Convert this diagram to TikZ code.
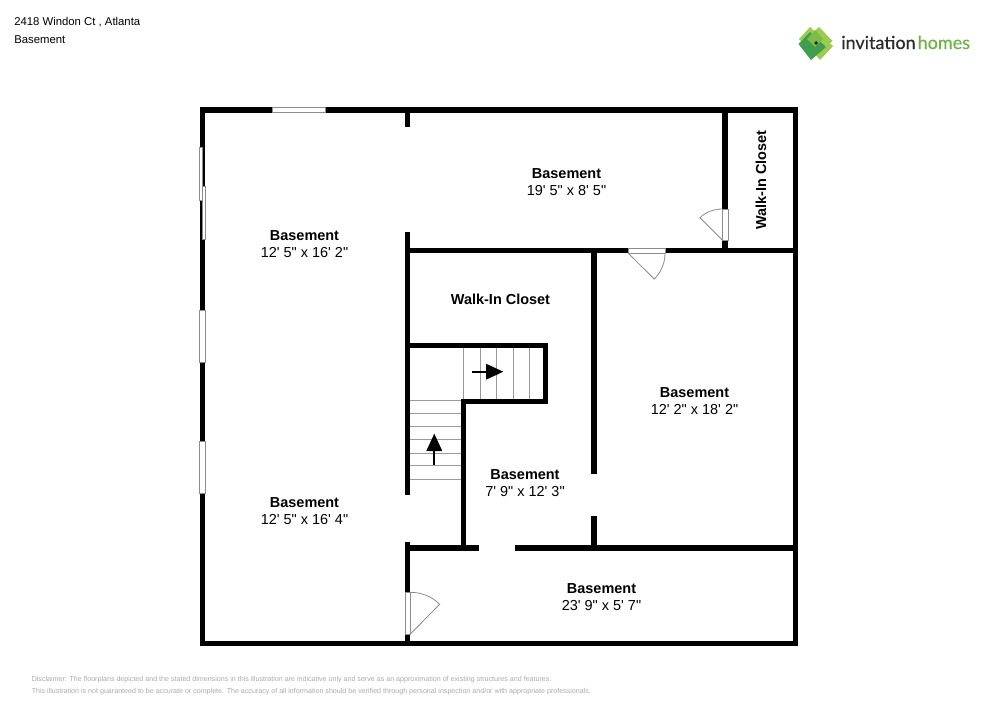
\documentclass[tikz,border=0pt]{standalone}
\usepackage{fontspec}
\setmainfont{Liberation Sans}
\newfontfamily\plainfont{Liberation Sans}
\newfontfamily\logofont[FakeBold=0.35]{Lato}
\definecolor{glass}{HTML}{8C8C8C}
\definecolor{disc}{HTML}{ABABAB}
\definecolor{stairline}{HTML}{9A9A9A}
\definecolor{lightleaf}{HTML}{9CCB4F}
\definecolor{midleaf}{HTML}{7DBB4A}
\definecolor{darkleaf}{HTML}{3F9E4D}
\definecolor{logodark}{HTML}{2B2B2B}
\definecolor{logogreen}{HTML}{6DB544}
\tikzset{
  wallpart/.style={fill=black,draw=none},
  pane/.style={fill=white,draw=glass,line width=0.6pt},
  leaf/.style={draw=glass,line width=0.6pt},
  tread/.style={draw=stairline,line width=0.5pt},
  room/.style={align=center,font=\plainfont\fontsize{10.85}{12.9}\selectfont,inner sep=0pt},
  head/.style={anchor=base west,font=\plainfont\fontsize{8.5}{10}\selectfont,inner sep=0pt},
  small/.style={anchor=base west,text=disc,font=\plainfont\fontsize{5.33}{6}\selectfont,inner sep=0pt},
}
\newcommand{\wallrect}[4]{\fill[wallpart] (#1,#2) rectangle (#3,#4);}
\begin{document}
\begin{tikzpicture}[x=0.75pt,y=-0.75pt]
\useasboundingbox (0,0) rectangle (1000,707);
\fill[white] (0,0) rectangle (1000,707);
% outer walls
\wallrect{199.5}{107}{798}{112.5}
\wallrect{199.5}{640.5}{798}{646}
\wallrect{199.5}{107}{205.3}{646}
\wallrect{792.7}{107}{798}{646}
% inner walls
\wallrect{405}{112}{410.3}{127}
\wallrect{405}{232}{410.3}{495}
\wallrect{405}{542}{410.3}{646}
\wallrect{405}{247.7}{798}{253.3}
\wallrect{722.3}{112}{728.3}{250}
\wallrect{591}{250}{597}{474}
\wallrect{591}{516}{597}{550}
\wallrect{405}{342.7}{548}{348.3}
\wallrect{542.7}{342.7}{548}{404.3}
\wallrect{461}{399}{548}{404.3}
\wallrect{461}{399}{466.3}{550.7}
\wallrect{405}{545}{479}{550.7}
\wallrect{515.3}{545}{798}{550.7}
% windows
\draw[pane] (272.7,107.3) rectangle (325.3,112);
\draw[pane] (199.5,147.3) rectangle (202.3,200.7);
\draw[pane] (202.3,186.7) rectangle (205.2,239.3);
\draw[pane] (199.8,310.7) rectangle (205,362.7);
\draw[pane] (199.8,441) rectangle (205,493.3);
% doors
\draw[pane] (405,592.3) rectangle (410.3,634);
\draw[leaf] (410.3,634) -- (439.7,604.3) .. controls (431.9,596.5) and (421.4,592.3) .. (410.3,592.3);
\draw[pane] (722.5,209) rectangle (728,240);
\draw[leaf] (722.3,240) -- (700,217.7) .. controls (705.8,211.9) and (714.1,209) .. (722.3,209);
\draw[pane] (628.3,248) rectangle (665,253.3);
\draw[leaf] (628.3,253.3) -- (654.3,279) .. controls (661.2,272.1) and (665,263) .. (665,253.3);
% stairs
\foreach \sx in {463.7,480.3,496.7,513.3,529.7} \draw[tread] (\sx,348.3) -- (\sx,399);
\foreach \sy in {400,413.3,426.3,439.7,453,465.7,479.3} \draw[tread] (410.3,\sy) -- (461,\sy);
\fill[black] (471.7,370.7) rectangle (487,372.9);
\fill[black] (486,363.7) -- (503.3,371.7) -- (486,379.7) -- cycle;
\fill[black] (433.2,465) rectangle (435.4,450);
\fill[black] (426.3,451) -- (434.3,433.7) -- (442.3,451) -- cycle;
% labels
\node[room] (r1) at (304.5,244) {\textbf{Basement}\\12' 5" x 16' 2"};
\node[room] (r2) at (304.5,510.7) {\textbf{Basement}\\12' 5" x 16' 4"};
\node[room] (r3) at (566.5,181.7) {\textbf{Basement}\\19' 5" x 8' 5"};
\node[room] (r4) at (694.5,400.7) {\textbf{Basement}\\12' 2" x 18' 2"};
\node[room] (r5) at (525,482.7) {\textbf{Basement}\\7' 9" x 12' 3"};
\node[room] (r6) at (601.5,597) {\textbf{Basement}\\23' 9" x 5' 7"};
\node[room] (r7) at (500.5,299) {\textbf{Walk-In Closet}};
\node[room,rotate=90] (r8) at (761,180) {\textbf{Walk-In Closet}};
% header
\node[head] (h1) at (14,25) {2418 Windon Ct , Atlanta};
\node[head] (h2) at (14,43) {Basement};
% disclaimer
\node[small] (d1) at (31.5,681) {Disclaimer: The floorplans depicted and the stated dimensions in this illustration are indicative only and serve as an approximation of existing structures and features.};
\node[small] (d2) at (31.5,693) {This illustration is not guaranteed to be accurate or complete. The accuracy of all information should be verified through personal inspection and/or with appropriate professionals.};
% logo
\fill[lightleaf] (810,27) -- (823,40) -- (811,52) -- (799,39) -- cycle;
\fill[lightleaf] (819,27) -- (832.5,41) -- (820,53) -- (806,39) -- cycle;
\fill[lightleaf] (823,38) -- (833,46) -- (820,60) -- (809,47) -- cycle;
\fill[darkleaf] (810,32) -- (826,47) -- (811,60) -- (798.5,44) -- cycle;
\fill[midleaf] (815,30) -- (823,39) -- (815,47) -- (807,39) -- cycle;
\fill[logodark] (816,41) -- (818,43) -- (816,45) -- (814,43) -- cycle;
\node[anchor=base west,inner sep=0pt,font=\logofont\fontsize{13.5}{16}\selectfont] (logo) at (841,49) {\textcolor{logodark}{invitation}\hspace{1.5pt}\textcolor{logogreen}{homes}};
\end{tikzpicture}
\end{document}
